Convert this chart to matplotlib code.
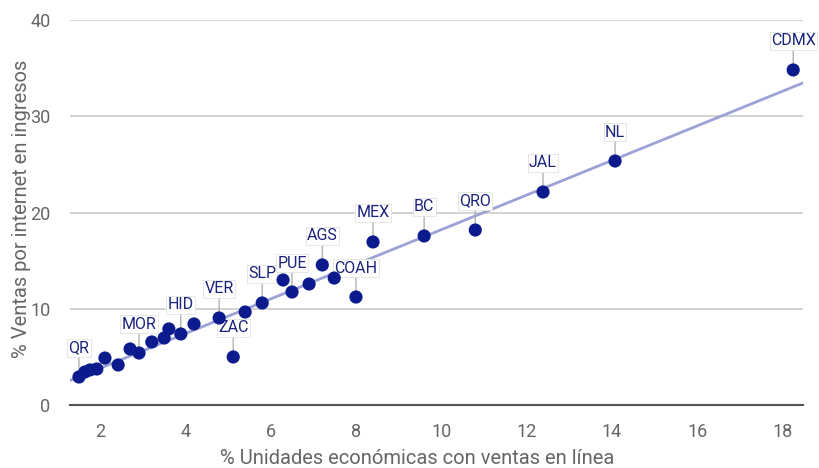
import numpy as np
import matplotlib
matplotlib.use("Agg")
import matplotlib.pyplot as plt

plt.rcParams['font.family'] = ['Roboto', 'DejaVu Sans']

# % unidades economicas con ventas en linea, % ventas por internet en ingresos
estado = ['QR', '', '', '', '', '', '', 'MOR', '', '', '', 'HID', '', 'VER', 'ZAC',
          '', 'SLP', '', 'PUE', '', 'AGS', '', 'COAH', 'MEX', 'BC', 'QRO', 'JAL', 'NL', 'CDMX']
x_linea = [1.49, 1.63, 1.75, 1.91, 2.10, 2.41, 2.69, 2.90, 3.20, 3.49, 3.60, 3.88, 4.19, 4.78, 5.11,
           5.39, 5.79, 6.28, 6.49, 6.89, 7.20, 7.48, 7.99, 8.39, 9.59, 10.79, 12.38, 14.07, 18.25]
y_ingresos = [2.91, 3.43, 3.64, 3.74, 4.88, 4.16, 5.82, 5.40, 6.55, 6.96, 7.90, 7.38, 8.42, 9.04, 4.99,
              9.66, 10.60, 12.99, 11.74, 12.57, 14.55, 13.19, 11.22, 16.94, 17.56, 18.18, 22.13, 25.35, 34.81]

fig = plt.figure(figsize=(8.19, 4.68), dpi=100)
ax = fig.add_axes([70/819, 63/468, 733/819, 385/468])

xlo, xhi = 1.28, 18.48
ax.set_xlim(xlo, xhi)
ax.set_ylim(0, 40)

# linea de tendencia
m, b = np.polyfit(x_linea, y_ingresos, 1)
xs = np.array([xlo, xhi])
ax.plot(xs, m * xs + b, color='#9aa2d6', lw=2, zorder=2)

ax.scatter(x_linea, y_ingresos, s=90, color='#0b1a8c', zorder=5, edgecolors='none')

for name, xv, yv in zip(estado, x_linea, y_ingresos):
    if not name:
        continue
    ax.annotate(name, (xv, yv), xytext=(0, 29), textcoords='offset pixels',
                ha='center', va='center', fontsize=11.5, color='#1a237e',
                bbox=dict(boxstyle='square,pad=0.08', fc='white', ec='#e2e2e2', lw=0.6),
                arrowprops=dict(arrowstyle='-', color='#aaaaaa', lw=0.9,
                                shrinkA=0, shrinkB=4),
                zorder=4)

ax.set_yticks([0, 10, 20, 30, 40])
ax.set_xticks([2, 4, 6, 8, 10, 12, 14, 16, 18])
ax.grid(axis='y', color='#cccccc', lw=1.2)
ax.set_axisbelow(True)
for s in ['top', 'right', 'left']:
    ax.spines[s].set_visible(False)
ax.spines['bottom'].set_color('#555555')
ax.spines['bottom'].set_linewidth(1.5)
ax.tick_params(length=0, labelsize=13, colors='#666666')
ax.tick_params(axis='x', pad=13)
ax.tick_params(axis='y', pad=14)

ax.set_xlabel('% Unidades económicas con ventas en línea', fontsize=14.5, color='#666666')
ax.xaxis.set_label_coords(0.473, -0.115)
ax.set_ylabel('% Ventas por internet en ingresos', fontsize=14.5, color='#666666')
ax.yaxis.set_label_coords(-0.053, 0.51)

fig.savefig('out.png', dpi=100)
